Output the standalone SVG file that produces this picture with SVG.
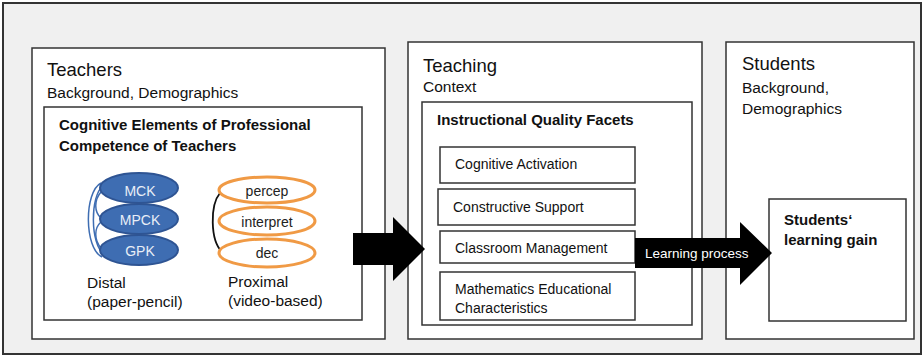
<svg xmlns="http://www.w3.org/2000/svg" width="924" height="357" viewBox="0 0 924 357">
<defs>
<style>
.box{fill:#fff;stroke:#333;stroke-width:1.5}
.t{font-family:"Liberation Sans",Arial,sans-serif;fill:#111}
.h{font-size:18.5px}
.s{font-size:15.5px}
.b{font-size:15px;font-weight:bold}
.f{font-size:14px}
.blue{fill:#3e6db2;stroke:#2e5493;stroke-width:2}
.bt{font-family:"Liberation Sans",Arial,sans-serif;font-size:14px;fill:#e8eef7;text-anchor:middle}
.or{fill:#fff;stroke:#f09a45;stroke-width:3}
.ot{font-family:"Liberation Sans",Arial,sans-serif;font-size:14px;fill:#222;text-anchor:middle}
.arc{fill:none;stroke:#3e6db2;stroke-width:1.5}
</style>
</defs>
<rect x="0" y="0" width="924" height="357" fill="#fff"/>
<rect x="3" y="3" width="918" height="351" fill="#f0f0f0" stroke="#333" stroke-width="2"/>

<g id="teachers">
<rect class="box" x="32" y="48" width="353" height="291"/>
<text class="t h" x="47" y="76">Teachers</text>
<text class="t s" x="47" y="98">Background, Demographics</text>
</g>
<g id="cognitive-elements">
<rect class="box" x="44" y="107" width="318" height="213"/>
<text class="t b" x="59" y="130">Cognitive Elements of Professional</text>
<text class="t b" x="59" y="151">Competence of Teachers</text>
</g>
<g id="distal">
<path class="arc" d="M101,183 C84,192 84,248 102,257"/>
<path class="arc" d="M103,186 C90,195 90,245 104,254"/>
<path class="arc" d="M101,192 C94,200 94,212 101,218"/>
<path class="arc" d="M101,222 C94,228 94,240 101,248"/>
<ellipse class="blue" cx="139" cy="250" rx="39" ry="15"/>
<ellipse class="blue" cx="139" cy="219" rx="39" ry="15"/>
<ellipse class="blue" cx="139" cy="188" rx="39" ry="15"/>
<text class="bt" x="140" y="196">MCK</text>
<text class="bt" x="140" y="225">MPCK</text>
<text class="bt" x="140" y="256">GPK</text>
<text class="t s" x="87" y="288">Distal</text>
<text class="t s" x="87" y="307">(paper-pencil)</text>
</g>
<g id="proximal">
<path d="M220,193 C210,205 210,240 222,252" fill="none" stroke="#111" stroke-width="1.8"/>
<ellipse class="or" cx="267" cy="190" rx="48" ry="13"/>
<ellipse class="or" cx="267" cy="221" rx="48" ry="14"/>
<ellipse class="or" cx="267" cy="253" rx="48" ry="14"/>
<text class="ot" x="267" y="196">percep</text>
<text class="ot" x="267" y="227">interpret</text>
<text class="ot" x="267" y="258">dec</text>
<text class="t s" x="228" y="287">Proximal</text>
<text class="t s" x="228" y="306">(video-based)</text>
</g>

<g id="teaching">
<rect class="box" x="408" y="42" width="294" height="297"/>
<text class="t h" x="423" y="72">Teaching</text>
<text class="t s" x="423" y="92">Context</text>
</g>
<g id="instructional-quality">
<rect class="box" x="422" y="102" width="270" height="223"/>
<text class="t b" x="437" y="125">Instructional Quality Facets</text>
</g>
<g id="cognitive-activation">
<rect class="box" x="440" y="147" width="195" height="36"/>
<text class="t f" x="455" y="169">Cognitive Activation</text>
</g>
<g id="constructive-support">
<rect class="box" x="438" y="189" width="197" height="36"/>
<text class="t f" x="453" y="212">Constructive Support</text>
</g>
<g id="classroom-management">
<rect class="box" x="440" y="231" width="195" height="32"/>
<text class="t f" x="455" y="253">Classroom Management</text>
</g>
<g id="math-edu">
<rect class="box" x="440" y="272" width="195" height="48"/>
<text class="t f" x="455" y="294">Mathematics Educational</text>
<text class="t f" x="455" y="313">Characteristics</text>
</g>

<g id="students">
<rect class="box" x="726" y="42" width="188" height="297"/>
<text class="t h" x="742" y="70">Students</text>
<text class="t s" x="742" y="93">Background,</text>
<text class="t s" x="742" y="114">Demographics</text>
</g>
<g id="learning-gain">
<rect class="box" x="769" y="199" width="137" height="122"/>
<text class="t b" x="784" y="225">Students‘</text>
<text class="t b" x="784" y="245">learning gain</text>
</g>

<g id="connectors">
<polygon points="353,233 393,233 393,217 425,249 393,281 393,265 353,265" fill="#000"/>
<polygon points="635,238 740,238 740,222 772,253 740,285 740,268 635,268" fill="#000"/>
<text class="t" x="645" y="258" font-size="13.5" style="fill:#fff">Learning process</text>
</g>
</svg>
